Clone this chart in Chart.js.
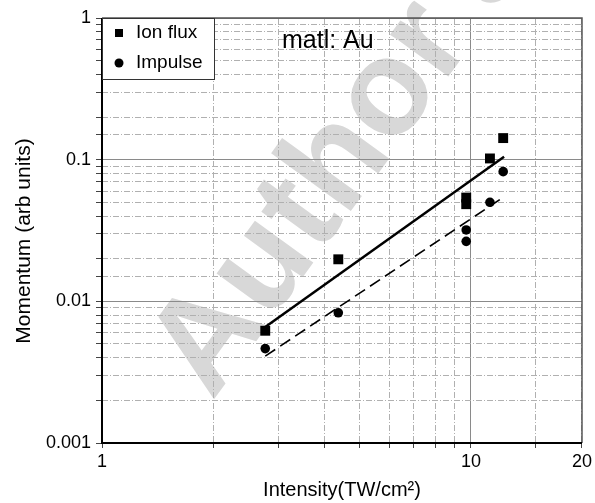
<!DOCTYPE html>
<html>
<head>
<meta charset="utf-8">
<script src="https://cdn.jsdelivr.net/npm/chart.js@4.4.0/dist/chart.umd.min.js"></script>
<style>
  html, body { margin: 0; padding: 0; background: #fff; }
  #wrap { width: 595px; height: 503px; }
</style>
</head>
<body>
<div id="wrap"><canvas id="momentumChart" width="595" height="503"></canvas></div>
<script>
// measured points (intensity in TW/cm2, momentum in arb units)
const ionIntensity = [2.77, 4.37, 9.71, 9.71, 11.26, 12.23];
const ionFlux = [0.0062, 0.0198, 0.054, 0.0485, 0.102, 0.142];
const impIntensity = [2.77, 4.37, 9.71, 9.71, 11.26, 12.23];
const impulse = [0.00464, 0.0083, 0.0319, 0.0265, 0.050, 0.0823];
// fitted lines
const fitIntensity = [2.77, 12.3];
const ionFit = [0.0066, 0.105];
const impFit = [0.0041, 0.0548];
// tick labels shown
const xLabels = [1, 10, 20];
const yLabels = [1, 0.1, 0.01, 0.001];

const FONT = '"Liberation Sans", Arial, Helvetica, sans-serif';
const toXY = (xs, ys) => xs.map((x, i) => ({ x: x, y: ys[i] }));
const isDecade = v => Math.abs(Math.log10(v) - Math.round(Math.log10(v))) < 1e-6;

const overlay = {
    id: 'overlay',
    beforeDraw(chart) {
        // faint watermark behind everything
        const ctx = chart.ctx;
        ctx.save();
        ctx.translate(212, 402);
        ctx.rotate(-54 * Math.PI / 180);
        ctx.fillStyle = '#d8d8d8';
        ctx.font = 'bold 136px ' + FONT;
        ctx.textBaseline = 'alphabetic';
        ctx.fillText("Author's copy", 0, 0);
        ctx.restore();
    },
    afterDatasetsDraw(chart) {
        const ctx = chart.ctx;
        const a = chart.chartArea;
        ctx.save();
        // frame
        ctx.strokeStyle = '#555';
        ctx.lineWidth = 1.5;
        ctx.beginPath();
        ctx.moveTo(a.left, a.top);
        ctx.lineTo(a.right, a.top);
        ctx.lineTo(a.right, a.bottom);
        ctx.stroke();
        ctx.strokeStyle = '#000';
        ctx.lineWidth = 2;
        ctx.beginPath();
        ctx.moveTo(a.left, a.top);
        ctx.lineTo(a.left, a.bottom);
        ctx.lineTo(a.right, a.bottom);
        ctx.stroke();

        // legend box
        ctx.fillStyle = '#fff';
        ctx.fillRect(a.left, a.top, 112, 61);
        ctx.strokeStyle = '#333';
        ctx.lineWidth = 1;
        ctx.strokeRect(a.left + 0.5, a.top + 0.5, 112, 61);
        ctx.fillStyle = '#000';
        ctx.fillRect(a.left + 13, a.top + 11, 8, 8);
        ctx.beginPath();
        ctx.arc(a.left + 17, a.top + 45, 4.5, 0, Math.PI * 2);
        ctx.fill();
        ctx.font = '19px ' + FONT;
        ctx.textBaseline = 'middle';
        ctx.fillText('Ion flux', a.left + 34, a.top + 15);
        ctx.fillText('Impulse', a.left + 34, a.top + 45);

        // material note
        ctx.font = '25px ' + FONT;
        ctx.textBaseline = 'alphabetic';
        ctx.fillText('matl: Au', 282, 48);

        // y axis title
        ctx.translate(24, 241);
        ctx.rotate(-Math.PI / 2);
        ctx.font = '21px ' + FONT;
        ctx.textAlign = 'center';
        ctx.textBaseline = 'middle';
        ctx.fillText('Momentum (arb units)', 0, 0);
        ctx.restore();
    }
};

const gridColor = c => (c.tick && isDecade(c.tick.value)) ? '#8a8a8a' : '#b0b0b0';
const gridDash = c => (c.tick && !isDecade(c.tick.value)) ? [6, 2, 1, 2] : [];

new Chart(document.getElementById('momentumChart'), {
    type: 'scatter',
    data: {
        datasets: [
            {
                label: 'Ion flux',
                data: toXY(ionIntensity, ionFlux),
                pointStyle: 'rect',
                pointRadius: 7,
                backgroundColor: '#000',
                borderColor: '#000',
                borderWidth: 0
            },
            {
                label: 'Impulse',
                data: toXY(impIntensity, impulse),
                pointStyle: 'circle',
                pointRadius: 4.8,
                backgroundColor: '#000',
                borderColor: '#000',
                borderWidth: 0
            },
            {
                label: 'Ion flux fit',
                data: toXY(fitIntensity, ionFit),
                showLine: true,
                pointRadius: 0,
                borderColor: '#000',
                borderWidth: 2.5
            },
            {
                label: 'Impulse fit',
                data: toXY(fitIntensity, impFit),
                showLine: true,
                pointRadius: 0,
                borderColor: '#000',
                borderWidth: 1.6,
                borderDash: [12, 6]
            }
        ]
    },
    options: {
        responsive: false,
        animation: false,
        layout: { padding: { left: 0, right: 12, top: 18, bottom: 0 } },
        plugins: {
            legend: { display: false },
            tooltip: { enabled: false }
        },
        scales: {
            x: {
                type: 'logarithmic',
                min: 1,
                max: 20,
                afterFit: s => { s.height = 60; },
                grid: {
                    color: gridColor,
                    lineWidth: 1,
                    tickLength: 5,
                    tickColor: '#444'
                },
                border: { display: false, dash: gridDash },
                ticks: {
                    autoSkip: false,
                    maxRotation: 0,
                    padding: 3,
                    color: '#000',
                    font: { family: FONT, size: 18 },
                    callback: v => xLabels.includes(v) ? String(v) : ''
                },
                title: {
                    display: true,
                    text: 'Intensity(TW/cm²)',
                    color: '#000',
                    font: { family: FONT, size: 20 },
                    padding: { top: 0, bottom: 1 }
                }
            },
            y: {
                type: 'logarithmic',
                min: 0.001,
                max: 1,
                afterFit: s => { s.width = 102; },
                grid: {
                    color: gridColor,
                    lineWidth: 1,
                    tickLength: 6,
                    tickColor: '#444'
                },
                border: { display: false, dash: gridDash },
                ticks: {
                    autoSkip: false,
                    padding: 5,
                    color: '#000',
                    font: { family: FONT, size: 18 },
                    callback: v => yLabels.some(l => Math.abs(l - v) / l < 1e-6) ? String(v) : ''
                },
                title: { display: false }
            }
        }
    },
    plugins: [overlay]
});
</script>
</body>
</html>
